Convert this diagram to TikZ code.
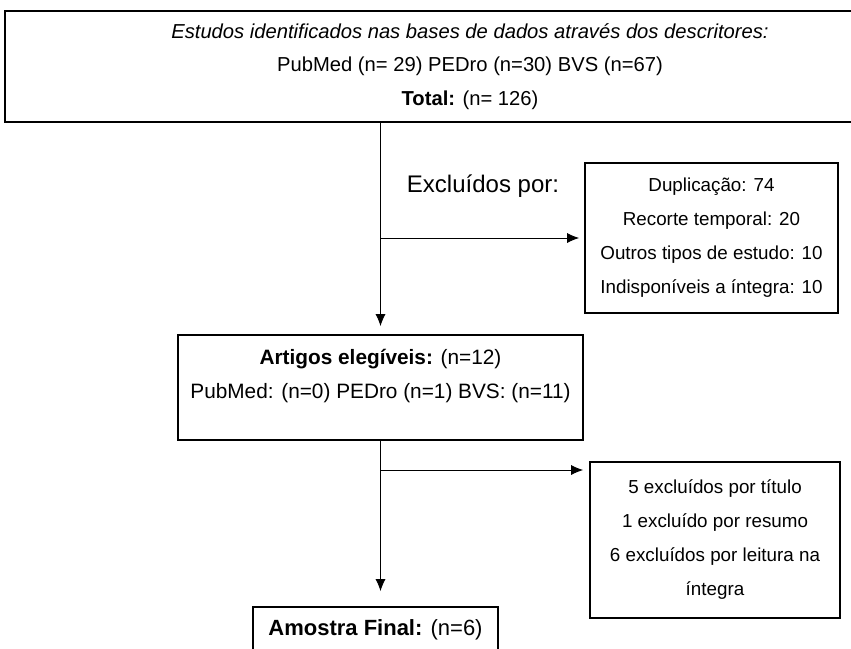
\documentclass[tikz,border=0pt]{standalone}
\usepackage{fontspec}
\setmainfont{Liberation Sans}
\usetikzlibrary{arrows.meta}

\begin{document}
\begin{tikzpicture}[x=1pt,y=-1pt,>={Latex[length=12pt,width=10pt]},
   bx/.style={draw,line width=1.6pt,inner sep=0pt,align=center},
   big/.style={font=\fontsize{20.2}{33.5}\selectfont},
   sml/.style={font=\fontsize{18.8}{34}\selectfont},
   ln/.style={line width=0.9pt}]
  \clip (0,0) rectangle (851,648);
  \node[bx,big,minimum width=930,minimum height=111] (ids) at (470,66.5)
    {\textit{Estudos identificados nas bases de dados através dos descritores:}\\
     PubMed (n= 29) PEDro (n=30) BVS (n=67)\\
     \textbf{Total:} (n= 126)};
  \node[font=\fontsize{24}{28}\selectfont] (exl) at (483,186) {Excluídos por:};
  \node[bx,sml,minimum width=253,minimum height=150] (ex1) at (711.5,238)
    {Duplicação: 74\\ Recorte temporal: 20\\ Outros tipos de estudo: 10\\ Indisponíveis a íntegra: 10};
  \node[bx,font=\fontsize{20.8}{34}\selectfont,minimum width=405,minimum height=105,text depth=27pt] (art) at (380.5,387.5)
    {\textbf{Artigos elegíveis:} (n=12)\\ PubMed: (n=0) PEDro (n=1) BVS: (n=11)};
  \node[bx,sml,minimum width=250,minimum height=156] (ex2) at (715,540)
    {5 excluídos por título\\ 1 excluído por resumo\\ 6 excluídos por leitura na\\ íntegra};
  \node[bx,font=\fontsize{22}{26}\selectfont,minimum width=245,minimum height=46] (fin) at (375.5,630)
    {\textbf{Amostra Final:} (n=6)};
  \coordinate (j2) at (art.south |- 0,470);
  % fluxo principal
  \draw[ln,->,shorten >=8pt] (ids.south -| art.north) -- (art.north);
  \draw[ln,->,shorten >=5pt] (art.north |- ex1.west) -- (ex1.west);
  \draw[ln,->,shorten >=15pt] (art.south) -- (art.south |- fin.north);
  \draw[ln,->,shorten >=6pt] (j2) -- (j2 -| ex2.west);
\end{tikzpicture}
\end{document}
